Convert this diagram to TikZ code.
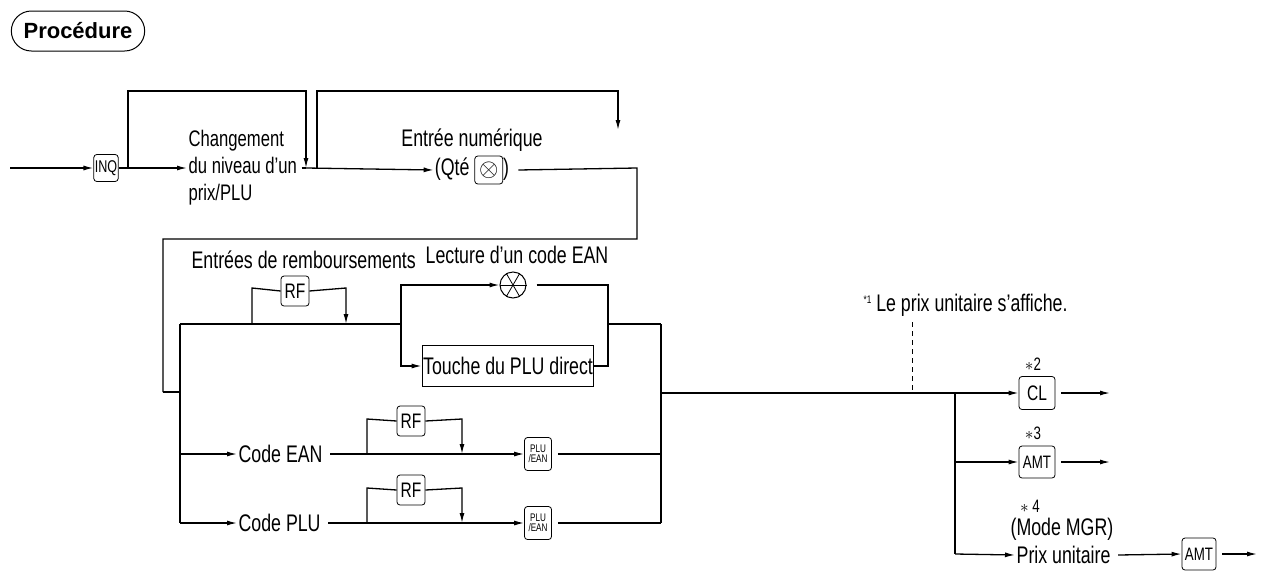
\documentclass[tikz,border=0pt]{standalone}
\usepackage{fontspec}
\setmainfont{Liberation Sans}[FakeStretch=0.74]
\newfontfamily\titlefont{Liberation Sans}
\usetikzlibrary{arrows.meta,shapes.misc}
\begin{document}
\begin{tikzpicture}[x=1pt,y=-1pt,line width=1.3pt,
  >={Latex[length=10pt,width=5pt]},
  txt/.style={font=\fontsize{24}{26}\selectfont,inner sep=1pt},
  key/.style={draw,rounded corners=3pt,line width=0.8pt,font=\fontsize{21}{22}\selectfont,inner sep=2pt,minimum height=30pt},
  small/.style={font=\fontsize{18}{19}\selectfont,inner sep=0pt}]
\useasboundingbox (0,0) rectangle (1265,576);
\node[draw,rounded rectangle,line width=1pt,font=\titlefont\fontsize{22}{23}\selectfont\bfseries,minimum width=140pt,minimum height=40pt] (title) at (78,31) {Procédure};
% top row
\coordinate (s0) at (10,168);
\node[key,minimum width=18pt,minimum height=27pt,font=\fontsize{17}{18}\selectfont,inner sep=1pt] (inq) at (106,168) {INQ};
\draw[->] (s0) -- (inq.west);
\node[txt,align=left,anchor=west,font=\fontsize{22.5}{27}\selectfont] (chg) at (187,168) {Changement\\du niveau d'un\\prix/PLU};
\coordinate (b1) at (128,168);
\coordinate (j1) at (306,168);
\coordinate (b2) at (317,168);
\draw[->] (inq.east) -- (chg.west |- b1);
\draw[->] (b1) -- (128,91) -- (306,91) -- (j1);
\node[txt] (ent) at (472,140) {Entrée numérique};
\node[txt] (qte) at (472,170) {(Qté \tikz[baseline=-5pt]\node[draw,rounded corners=3pt,line width=0.8pt,minimum size=28pt,inner sep=0pt]{$\otimes$};)};
\draw (chg.east |- j1) ++(3,0) -- (j1);
\draw[->] (j1) -- (qte.west);
\draw[->] (b2) -- (317,91) -- (618,91) -- (618,130);
\coordinate (c1) at (163,392);
\draw (qte.east) ++(8,0) coordinate (q1) -- (637,168) -- (637,239) -- (163,239) -- (c1);
% lower block
\coordinate (L) at (180,392);
\draw (c1) -- (L);
\draw (180,324) -- (180,523);
\draw (661,324) -- (661,523);
\node[txt,anchor=west] (remb) at (190,260) {Entrées de remboursements};
\node[txt,anchor=west] (lect) at (424,255) {Lecture d'un code EAN};
\draw (180,324) -- (401,324);
\node[key,minimum width=28pt] (rf1) at (295,291) {RF};
\draw (252,324) -- (252,288) -- (rf1.west);
\draw[->] (rf1.east) -- (346,288) -- (346,324);
\node[circle,draw,line width=1pt,minimum size=26pt,inner sep=0pt] (scan) at (513,285) {};
\foreach \a in {0,60,120} \draw[line width=0.8pt] (scan.\a) -- (scan.\a+180);
\draw[->] (401,324) -- (401,285) -- (scan.west);
\node[draw,line width=1pt,txt,minimum width=161pt,minimum height=41pt] (touche) at (508,366) {Touche du PLU direct};
\draw[->] (401,324) -- (401,366) -- (touche.west);
\draw (scan.east) ++(10,0) -- (608,285) -- (608,366) -- (touche.east);
\draw (608,324) -- (661,324);
% EAN row
\node[txt,anchor=west] (cean) at (237,454) {Code EAN};
\draw[->] (180,454) -- (cean.west);
\node[key,minimum width=27pt,font=\fontsize{11}{10}\selectfont,align=center,inner sep=1pt,minimum height=33pt] (pe1) at (538,454) {PLU\\/EAN};
\draw[->] (cean.east) ++(6,0) -- (pe1.west);
\node[key,minimum width=28pt] (rf2) at (411,421) {RF};
\draw (367,454) -- (367,419) -- (rf2.west);
\draw[->] (rf2.east) -- (462,419) -- (462,454);
\draw (pe1.east) ++(6,0) -- (661,454);
% PLU row
\node[txt,anchor=west] (cplu) at (237,523) {Code PLU};
\draw[->] (180,523) -- (cplu.west);
\node[key,minimum width=27pt,font=\fontsize{11}{10}\selectfont,align=center,inner sep=1pt,minimum height=33pt] (pe2) at (538,523) {PLU\\/EAN};
\draw[->] (cplu.east) ++(6,0) -- (pe2.west);
\node[key,minimum width=28pt] (rf3) at (411,490) {RF};
\draw (367,523) -- (367,488) -- (rf3.west);
\draw[->] (rf3.east) -- (462,488) -- (462,523);
\draw (pe2.east) ++(6,0) -- (661,523);
% right part
\node[txt,anchor=west] (note1) at (862,305) {\raisebox{8pt}{\fontsize{11}{11}\selectfont *1} Le prix unitaire s'affiche.};
\draw[dashed,line width=0.9pt,dash pattern=on 5pt off 4pt] (912,322) -- (912,392);
\node[key,minimum width=36pt,minimum height=33pt] (cl) at (1037,393) {CL};
\node[small] (s2) at (1033,364) {$\ast$2};
\draw[->] (661,393) -- (cl.west);
\coordinate (e1) at (1110,393);
\draw[->] (cl.east) ++(6,0) -- (e1);
\node[key,minimum width=36pt,minimum height=32pt,font=\fontsize{18}{19}\selectfont,inner sep=0pt] (amt1) at (1037,462) {AMT};
\node[small] (s3) at (1033,433) {$\ast$3};
\draw (955,393) -- (955,554);
\draw[->] (955,462) -- (amt1.west);
\coordinate (e2) at (1110,462);
\draw[->] (amt1.east) ++(6,0) -- (e2);
\node[small] (s4) at (1030,506) {$\ast$ 4};
\node[txt,anchor=west] (mgr) at (1009,529) {(Mode MGR)};
\node[txt,anchor=west] (pu) at (1015,555) {Prix unitaire};
\draw[->] (955,554) -- (pu.west);
\node[key,minimum width=34pt,minimum height=32pt,font=\fontsize{18}{19}\selectfont,inner sep=0pt] (amt2) at (1199,554) {AMT};
\draw[->] (pu.east) ++(6,0) -- (amt2.west);
\coordinate (e3) at (1257,554);
\draw[->] (amt2.east) ++(6,0) -- (e3);
\end{tikzpicture}
\end{document}
